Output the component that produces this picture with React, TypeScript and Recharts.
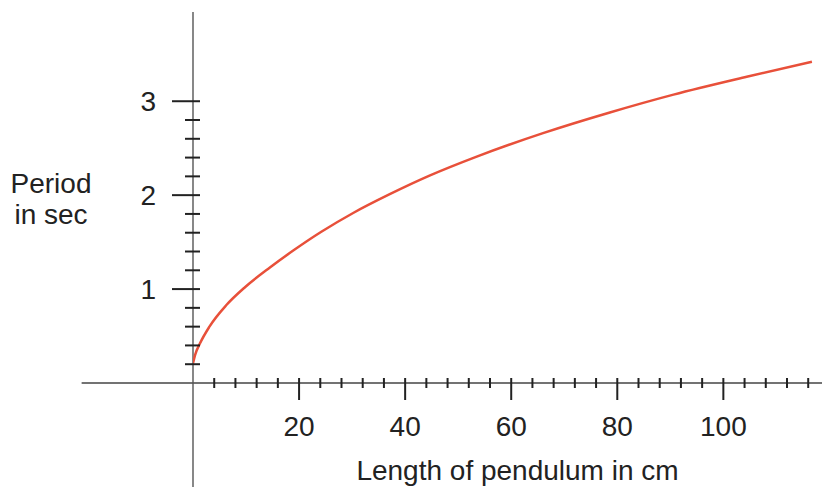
import React from 'react';
import { LineChart, Line, XAxis, YAxis, ReferenceLine } from 'recharts';

// Pendulum length (cm) vs period (s)
const lengthCm = [0, 0.4, 1.3, 3.1, 6.3, 9.8, 14.5, 18.9, 24.2, 30.2, 37.1, 44.7, 53.5, 66, 78.6, 90.6, 104.4, 116.7];
const periodSec = [0.21, 0.3, 0.42, 0.6, 0.83, 1.02, 1.23, 1.41, 1.61, 1.81, 2.01, 2.21, 2.41, 2.66, 2.88, 3.07, 3.26, 3.42];

const xTicks = [4, 8, 12, 16, 20, 24, 28, 32, 36, 40, 44, 48, 52, 56, 60, 64, 68, 72, 76, 80, 84, 88, 92, 96, 100, 104, 108, 112, 116];
const xLabeled = [20, 40, 60, 80, 100];
const yTicks = [0.2, 0.4, 0.6, 0.8, 1, 1.2, 1.4, 1.6, 1.8, 2, 2.2, 2.4, 2.6, 2.8, 3];
const yLabeled = [1, 2, 3];

const xTitle = 'Length of pendulum in cm';
const yTitle = ['Period', 'in sec'];

const data = lengthCm.map((l, i) => ({ l, t: periodSec[i] }));

const FONT = '"Liberation Sans", Arial, sans-serif';
const INK = '#222';

const XTick = (props: any) => {
  const { x, y, payload } = props;
  const v = payload.value;
  const major = xLabeled.includes(v);
  return (
    <g>
      <line x1={x} x2={x} y1={y - 5} y2={major ? y + 17 : y + 5} stroke={INK} strokeWidth={2} />
      {major && (
        <text x={x} y={y + 53} textAnchor="middle" fontSize={28} fill={INK} fontFamily={FONT}>
          {v}
        </text>
      )}
    </g>
  );
};

const YTick = (props: any) => {
  const { x, y, payload } = props;
  const v = payload.value;
  const major = yLabeled.some((m) => Math.abs(m - v) < 1e-6);
  return (
    <g>
      <line x1={major ? x - 21 : x - 8} x2={x + 7} y1={y} y2={y} stroke={INK} strokeWidth={2} />
      {major && (
        <text x={x - 37} y={y + 10} textAnchor="end" fontSize={28} fill={INK} fontFamily={FONT}>
          {Math.round(v)}
        </text>
      )}
    </g>
  );
};

export default function App() {
  return (
    <div style={{ position: 'fixed', left: 0, top: 0, width: 836, height: 487, background: '#fff' }}>
      <LineChart width={836} height={487} data={data} margin={{ top: 12, right: 14, bottom: 103, left: 192 }}>
        <XAxis
          dataKey="l"
          type="number"
          domain={[0, 118.6]}
          allowDataOverflow
          ticks={xTicks}
          interval={0}
          height={1}
          tickSize={0}
          tickMargin={0}
          axisLine={false}
          tickLine={false}
          tick={XTick}
        />
        <YAxis
          type="number"
          domain={[0, 3.95]}
          allowDataOverflow
          ticks={yTicks}
          interval={0}
          width={1}
          tickSize={0}
          tickMargin={0}
          axisLine={false}
          tickLine={false}
          tick={YTick}
        />
        <ReferenceLine
          segment={[{ x: -21, y: 0 }, { x: 118.6, y: 0 }]}
          ifOverflow="visible"
          stroke="#444"
          strokeWidth={1.6}
        />
        <ReferenceLine
          segment={[{ x: 0, y: -1.12 }, { x: 0, y: 3.95 }]}
          ifOverflow="visible"
          stroke="#555"
          strokeWidth={1.4}
        />
        <Line
          dataKey="t"
          type="monotone"
          stroke="#E8503A"
          strokeWidth={2.5}
          dot={false}
          activeDot={false}
          isAnimationActive={false}
        />
        <text x={517.5} y={480} textAnchor="middle" fontSize={28} fill={INK} fontFamily={FONT}>
          {xTitle}
        </text>
        <text x={51} y={193} textAnchor="middle" fontSize={28} fill={INK} fontFamily={FONT}>
          {yTitle[0]}
        </text>
        <text x={51} y={224} textAnchor="middle" fontSize={28} fill={INK} fontFamily={FONT}>
          {yTitle[1]}
        </text>
      </LineChart>
    </div>
  );
}
